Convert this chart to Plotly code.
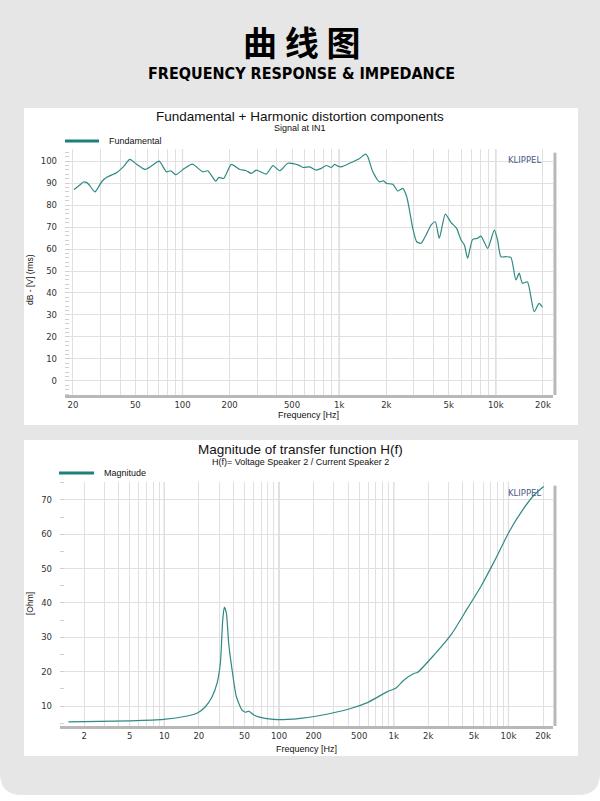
import plotly.graph_objects as go

W, H = 600, 801

# ---------------- data ----------------
fund_freq = [20.3, 22.0, 23.3, 24.5, 25.5, 27.6, 30.5, 32.8, 37.9, 42.0, 46.1, 50.9, 57.5, 64.0, 71.0,
             79.0, 84.0, 90.6, 103, 115.6, 135, 145, 163, 171, 183, 205, 232, 255, 275, 296, 319, 343,
             378, 417, 471, 546, 588, 648, 714, 769, 828, 891, 936, 981, 1032, 1165, 1350, 1472, 1523,
             1640, 1805, 1918, 2014, 2200, 2365, 2546, 2700, 2810, 2950, 3125, 3333, 3585, 3860, 4110,
             4355, 4760, 5180, 5620, 6000, 6300, 6610, 7110, 7650, 8040, 8870, 9780, 10260, 10780,
             11610, 12480, 13430, 14100, 14800, 15900, 17580, 18880, 19860]
fund_db = [87.1, 89.0, 90.5, 90.2, 89.0, 86.0, 90.6, 92.6, 94.7, 97.5, 100.8, 98.6, 96.2, 98.0, 100.0,
           95.1, 95.6, 93.8, 96.7, 98.6, 95.1, 95.6, 90.9, 92.6, 92.1, 98.5, 96.2, 95.6, 94.4, 95.9,
           94.9, 94.1, 97.9, 95.6, 99.0, 98.3, 97.1, 97.4, 95.9, 96.7, 98.0, 97.1, 98.5, 97.7, 97.4,
           99.0, 101.2, 103.2, 102.0, 95.1, 90.6, 91.0, 89.8, 89.5, 86.4, 87.6, 83.8, 77.7, 69.4,
           63.3, 62.6, 66.4, 70.9, 72.4, 64.9, 75.9, 72.0, 69.4, 64.1, 61.8, 55.8, 64.4, 64.9, 65.9,
           60.3, 68.6, 64.1, 56.5, 56.5, 56.2, 45.9, 49.0, 44.4, 45.1, 31.5, 35.3, 33.5]

imp_freq = [1.46, 5.05, 9.87, 15.8, 19.3, 22.8, 26.1, 28.8, 30.8, 32.3, 33.4, 34.8, 36.4, 39.0, 42.5,
            47.7, 50.9, 54.5, 60.3, 68.9, 90.1, 118, 154, 215, 421, 589, 881, 1040, 1230, 1500, 1610,
            2250, 3150, 4400, 5750, 7520, 10160, 13300, 16800, 20280]
imp_ohm = [5.4, 5.7, 6.1, 7.1, 7.9, 9.8, 12.7, 16.6, 22.4, 35.0, 38.8, 37.0, 28.3, 20.5, 12.7,
           8.8, 8.2, 8.5, 7.4, 6.7, 6.1, 6.1, 6.4, 7.1, 9.3, 11.0, 14.2, 15.2, 17.6, 19.5, 19.8,
           24.9, 30.7, 38.5, 44.8, 52.1, 60.8, 67.1, 71.5, 73.9]

top_tick_vals = [20, 50, 100, 200, 500, 1000, 2000, 5000, 10000, 20000]
top_tick_text = ["20", "50", "100", "200", "500", "1k", "2k", "5k", "10k", "20k"]
bot_tick_vals = [2, 5, 10, 20, 50, 100, 200, 500, 1000, 2000, 5000, 10000, 20000]
bot_tick_text = ["2", "5", "10", "20", "50", "100", "200", "500", "1k", "2k", "5k", "10k", "20k"]
decades = [1, 10, 100, 1000, 10000]
digits = [1, 2, 3, 4, 5, 6, 7, 8, 9]

LINE_COLOR = "#2f8a82"
GRID = "#e0e0e0"
TICKFONT = dict(family="DejaVu Sans, Liberation Sans, sans-serif", size=8.5, color="#333333")
TXT = "Liberation Sans, Arial, sans-serif"


def X(px):
    return px / W


def Y(py):
    return 1 - py / H


def grid_ticks(fmin, fmax, labels_vals, labels_text):
    vals, text = [], []
    lab = dict(zip(labels_vals, labels_text))
    for d in decades:
        for k in digits:
            f = d * k
            if fmin <= f <= fmax:
                vals.append(f)
                text.append(lab.get(f, ""))
    return vals, text


tv1, tt1 = grid_ticks(20, 20000, top_tick_vals, top_tick_text)
tv2, tt2 = grid_ticks(2, 20000, bot_tick_vals, bot_tick_text)

fig = go.Figure()
fig.add_trace(go.Scatter(x=fund_freq, y=fund_db, mode="lines", name="Fundamental",
                         line=dict(color=LINE_COLOR, width=1.2, shape="spline", smoothing=0.6),
                         xaxis="x", yaxis="y", showlegend=False))
fig.add_trace(go.Scatter(x=imp_freq, y=imp_ohm, mode="lines", name="Magnitude",
                         line=dict(color=LINE_COLOR, width=1.2, shape="spline", smoothing=0.6),
                         xaxis="x2", yaxis="y2", showlegend=False))

xcommon = dict(type="log", showgrid=True, gridcolor=GRID, gridwidth=1, ticks="", tickfont=TICKFONT,
               showline=True, linecolor="#b8b8b8", linewidth=3, zeroline=False, fixedrange=True)
ycommon = dict(showgrid=True, gridcolor=GRID, gridwidth=1, ticks="", tickfont=TICKFONT,
               zeroline=False, showline=False, ticklabelstandoff=7, fixedrange=True)

fig.update_layout(
    width=W, height=H,
    margin=dict(l=0, r=0, t=0, b=0),
    paper_bgcolor="white", plot_bgcolor="white",
    xaxis=dict(xcommon, domain=[X(65), X(553)], range=[1.25, 4.365], anchor="y",
               tickvals=tv1, ticktext=tt1),
    yaxis=dict(ycommon, domain=[Y(395), Y(149)], range=[-6.4, 105.5], anchor="x",
               tickvals=list(range(0, 101, 10)),
               minor=dict(dtick=2, ticks="inside", ticklen=4, tickcolor="#d0d0d0", showgrid=False)),
    xaxis2=dict(xcommon, domain=[X(60), X(553)], range=[0.091, 4.388], anchor="y2",
                tickvals=tv2, ticktext=tt2),
    yaxis2=dict(ycommon, domain=[Y(726), Y(482)], range=[4.2, 75.2], anchor="x2",
                tickvals=list(range(10, 71, 10)),
                minor=dict(dtick=5, ticks="inside", ticklen=4, tickcolor="#d0d0d0", showgrid=False)),
)

shapes = []
# gray card with rounded bottom corners
rx, ry = X(22), 22 / H
yb = Y(795)
shapes.append(dict(type="path", xref="paper", yref="paper", layer="below",
                   path=f"M 0 1.05 L 0 {yb + ry} Q 0 {yb} {rx} {yb} L {1 - rx} {yb} Q 1 {yb} 1 {yb + ry} L 1 1.05 Z",
                   fillcolor="#e6e6e6", line=dict(width=0)))
# white panels
for (t, b) in [(108, 425), (440, 756)]:
    shapes.append(dict(type="rect", xref="paper", yref="paper", layer="below",
                       x0=X(24), x1=X(578), y0=Y(b), y1=Y(t), fillcolor="white", line=dict(width=0)))
# right border shadow
for xa, ya in [("x", "y"), ("x2", "y2")]:
    shapes.append(dict(type="line", xref=f"{xa} domain", yref=f"{ya} domain", x0=1.004, x1=1.004,
                       y0=0, y1=0.985, line=dict(color="#b8b8b8", width=3), layer="above"))
# decade grid emphasis
for xa, ya, fmin in [("x", "y", 20), ("x2", "y2", 2)]:
    for d in decades[1:]:
        if d >= fmin:
            shapes.append(dict(type="line", xref=xa, yref=f"{ya} domain", x0=d, x1=d, y0=0, y1=1,
                               line=dict(color="#cacaca", width=1.2), layer="below"))
# legend lines
shapes.append(dict(type="line", xref="paper", yref="paper", x0=X(65), x1=X(99), y0=Y(141), y1=Y(141),
                   line=dict(color="#1f7f7a", width=3)))
shapes.append(dict(type="line", xref="paper", yref="paper", x0=X(59), x1=X(94), y0=Y(473), y1=Y(473),
                   line=dict(color="#1f7f7a", width=3)))
fig.update_layout(shapes=shapes)

ann = []


def A(text, px, py, size, xanchor="center", color="#111111", family=TXT, angle=0, yanchor="middle"):
    ann.append(dict(text=text, x=X(px), y=Y(py), xref="paper", yref="paper", showarrow=False,
                    xanchor=xanchor, yanchor=yanchor, textangle=angle,
                    font=dict(family=family, size=size, color=color)))


A("<b>曲 线 图</b>", 301, 41, 34, family="Noto Sans CJK SC", color="#000000")
A("<b>FREQUENCY RESPONSE &amp; IMPEDANCE</b>", 301, 73, 16,
  family="DejaVu Sans Condensed, DejaVu Sans, sans-serif", color="#000000")

A("Fundamental + Harmonic distortion components", 300, 116, 13.5)
A("Signal at IN1", 300, 128, 9)
A("Fundamental", 107, 141, 9, xanchor="left")
A("KLIPPEL", 543, 160, 8.5, xanchor="right", color="#4a5a8c", family="DejaVu Sans, sans-serif")
A("dB - [V] (rms)", 30, 280, 8.5, angle=-90)
A("Frequency [Hz]", 308, 415, 9)

A("Magnitude of transfer function H(f)", 300, 449, 13.5)
A("H(f)= Voltage Speaker 2 / Current Speaker 2", 300, 462, 9)
A("Magnitude", 102, 473, 9, xanchor="left")
A("KLIPPEL", 543, 493, 8.5, xanchor="right", color="#4a5a8c", family="DejaVu Sans, sans-serif")
A("[Ohm]", 30, 604, 8.5, angle=-90)
A("Frequency [Hz]", 306, 749, 9)

fig.update_layout(annotations=ann)

fig.write_html("out.html", config={"displayModeBar": False},
               post_script="document.body.style.margin='0px';")
